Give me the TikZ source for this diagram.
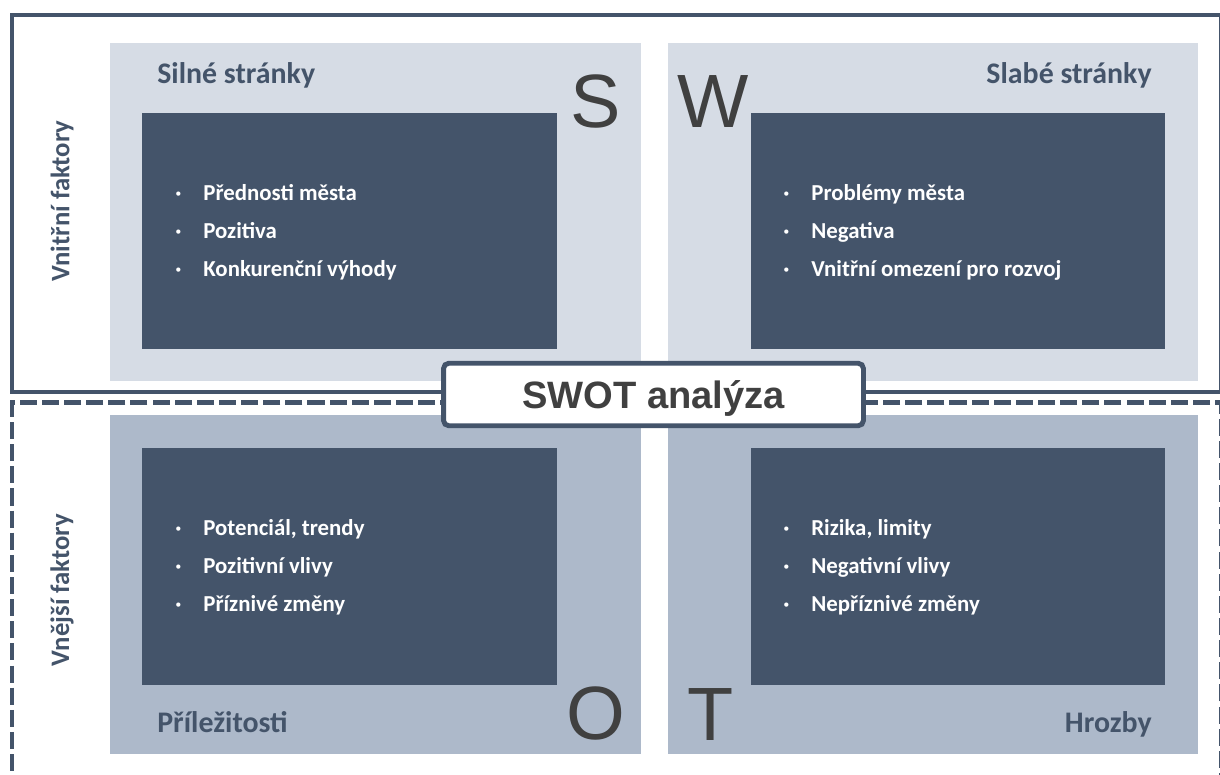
\documentclass[tikz,border=0pt]{standalone}
\usepackage{fontspec}
\setmainfont{Carlito}
\newfontfamily\arialfont{Liberation Sans}
\usetikzlibrary{positioning}
\definecolor{Navy}{HTML}{44546A}
\definecolor{Pale}{HTML}{D6DCE5}
\definecolor{Mist}{HTML}{ADB9CA}
\definecolor{Ink}{HTML}{404040}

\begin{document}
\begin{tikzpicture}[x=0.02cm,y=-0.02cm,
  quad/.style={fill=Pale,minimum width=10.62cm,minimum height=6.76cm,inner sep=0pt},
  quad2/.style={fill=Mist,minimum width=10.62cm,minimum height=6.78cm,inner sep=0pt},
  panel/.style={fill=Navy,minimum width=8.3cm,minimum height=4.73cm,inner sep=0pt},
  title/.style={font=\fontsize{17}{20}\selectfont\bfseries,text=Navy,inner sep=0pt},
  letter/.style={font=\arialfont\fontsize{43}{50}\selectfont,text=Ink,inner sep=0pt,anchor=base},
  items/.style={font=\fontsize{13}{21.6}\selectfont\bfseries,text=white,align=left,inner sep=0pt,anchor=base west},
  side/.style={font=\fontsize{15.2}{18}\selectfont\bfseries,text=Navy,rotate=90,inner sep=0pt},
  frame/.style={draw=Navy,line width=2.8pt}
]
\useasboundingbox (0,0) rectangle (1220,774);
% outer frames
\draw[frame] (12,15) rectangle (1221,392);
\draw[frame,dash pattern=on 9.7pt off 2.9pt] (1221,790) -- (1221,402.5) -- (12,402.5) -- (12,790);
% quadrants
\node[quad] (sBox) at (375.5,212) {};
\node[quad] (wBox) at (933,212) {};
\node[quad2] (oBox) at (375.5,584.5) {};
\node[quad2] (tBox) at (933,584.5) {};
\node[panel] (sPanel) at (349.5,231) {};
\node[panel] (wPanel) at (958,231) {};
\node[panel] (oPanel) at (349.5,566.5) {};
\node[panel] (tPanel) at (958,566.5) {};
% titles
\node[title,anchor=base west] (sTitle) at (157,83) {Silné stránky};
\node[title,anchor=base east] (wTitle) at (1152,83) {Slabé stránky};
\node[title,anchor=base west] (oTitle) at (157,732) {Příležitosti};
\node[title,anchor=base east] (tTitle) at (1152,732) {Hrozby};
% big letters
\node[letter] (sLetter) at (596,127) {S};
\node[letter] (wLetter) at (713,127) {W};
\node[letter] (oLetter) at (596,739) {O};
\node[letter] (tLetter) at (711,740) {T};
% lists (base = last line)
\node[items] (sList) at (175,276) {\makebox[0.56cm][l]{·}Přednosti města\\\makebox[0.56cm][l]{·}Pozitiva\\\makebox[0.56cm][l]{·}Konkurenční výhody};
\node[items] (wList) at (783,276) {\makebox[0.56cm][l]{·}Problémy města\\\makebox[0.56cm][l]{·}Negativa\\\makebox[0.56cm][l]{·}Vnitřní omezení pro rozvoj};
\node[items] (oList) at (175,611) {\makebox[0.56cm][l]{·}Potenciál, trendy\\\makebox[0.56cm][l]{·}Pozitivní vlivy\\\makebox[0.56cm][l]{·}Příznivé změny};
\node[items] (tList) at (783,611) {\makebox[0.56cm][l]{·}Rizika, limity\\\makebox[0.56cm][l]{·}Negativní vlivy\\\makebox[0.56cm][l]{·}Nepříznivé změny};
% side labels
\node[side] (inner) at (62,201) {Vnitřní faktory};
\node[side] (outer) at (62,590) {Vnější faktory};
% centre
\node[draw=Navy,line width=2.8pt,rounded corners=3pt,fill=white,minimum width=8.4cm,minimum height=1.25cm,
  text depth=0pt,font=\arialfont\bfseries\fontsize{21.7}{26}\selectfont,text=Ink] (swot) at (653.5,394.5) {SWOT analýza};
\end{tikzpicture}
\end{document}
